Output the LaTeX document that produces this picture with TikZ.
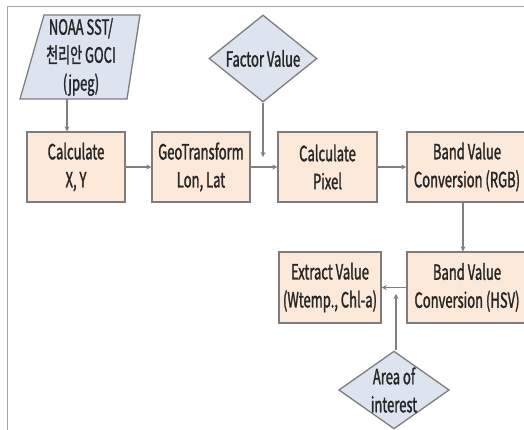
\documentclass[tikz,border=0pt]{standalone}
\usepackage{fontspec}
\setmainfont{Noto Sans CJK KR}[FakeStretch=0.62, FakeBold=1.3]
\usetikzlibrary{shapes.geometric,arrows.meta}
\definecolor{boxfill}{RGB}{252,233,217}
\definecolor{bluefill}{RGB}{221,228,240}
\definecolor{edge}{RGB}{125,125,125}
\definecolor{arr}{RGB}{128,128,128}
\tikzset{
  every node/.style={font=\fontsize{21}{28}\selectfont, text=black!85, align=center, inner sep=0pt},
  proc/.style={draw=edge, line width=1.3pt, fill=boxfill, minimum height=70pt},
  decis/.style={draw=edge, line width=1.3pt, fill=bluefill, diamond},
  conn/.style={draw=arr, line width=1.2pt, -{Stealth[length=5pt,width=5pt]}},
}
\begin{document}
\begin{tikzpicture}[x=1pt,y=-1pt]
\useasboundingbox (0,0) rectangle (524,430);
\draw[draw=black!35, line width=1pt] (7,7) rectangle (540,450);
% input parallelogram
\filldraw[draw=edge, line width=1.3pt, fill=bluefill] (44,15) -- (140,15) -- (127,99) -- (20,99) -- cycle;
\node (src) at (81,57) {NOAA SST/\\천리안 GOCI\\(jpeg)};
\coordinate (srcb) at (67,99);
% process boxes
\node[proc, minimum width=98pt] (b1) at (76,167) {Calculate\\X, Y};
\node[proc, minimum width=98pt] (b2) at (201,167) {GeoTransform\\Lon, Lat};
\node[proc, minimum width=99pt] (b3) at (327.5,167) {Calculate\\Pixel};
\node[proc, minimum width=120pt] (b4) at (467,167) {Band Value\\Conversion (RGB)};
\node[proc, minimum width=120pt, minimum height=71pt] (b5) at (467,287.5) {Band Value\\Conversion (HSV)};
\node[proc, minimum width=102pt, minimum height=71pt] (b6) at (330,287.5) {Extract Value\\(Wtemp., Chl-a)};
% decisions
\node[decis, minimum width=108pt, minimum height=87pt, aspect=1.24] (fv) at (263,58.5) {Factor Value};
\node[decis, minimum width=108pt, minimum height=76pt, aspect=1.42] (aoi) at (394,390) {Area of\\interest};
\coordinate (fvend) at (263,157);
\coordinate (aoiend) at (396,294);
% connectors
\draw[conn] (srcb) -- (srcb |- b1.north);
\draw[conn] (b1) -- (b2);
\draw[conn] (b2) -- (b3);
\draw[conn] (b3) -- (b4);
\draw[conn] (fv.south) -- (fvend);
\draw[conn] (b4.south -| 463,0) -- (b5.north -| 463,0);
\draw[conn] (b5) -- (b6);
\draw[conn] (aoi.north -| aoiend) -- (aoiend);
\end{tikzpicture}
\end{document}
